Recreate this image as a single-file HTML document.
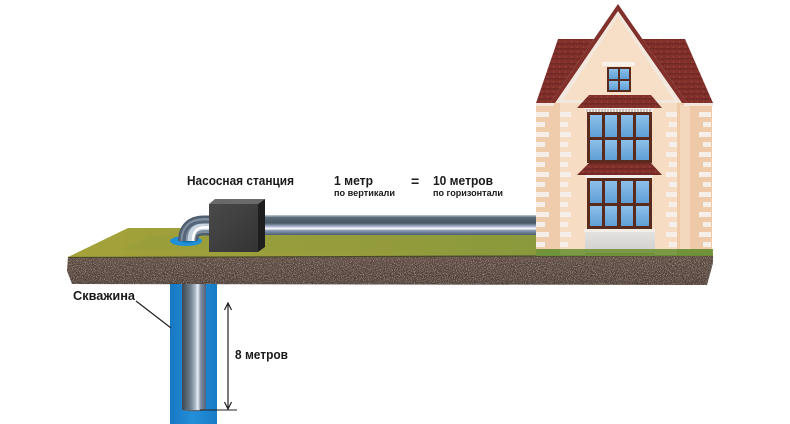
<!DOCTYPE html>
<html><head><meta charset="utf-8"><style>
html,body{margin:0;padding:0;background:#fff;}
svg{display:block;}
text{font-family:"Liberation Sans","DejaVu Sans",sans-serif;font-weight:bold;fill:#1a1a1a;}
</style></head><body>
<svg width="790" height="424" viewBox="0 0 790 424" xmlns="http://www.w3.org/2000/svg">
<defs>
<filter id="soilN" x="0" y="0" width="1" height="1">
<feTurbulence type="fractalNoise" baseFrequency="1.1" numOctaves="2" seed="3" result="t"/>
<feColorMatrix in="t" type="matrix" values="0 0 0 0 0.62  0 0 0 0 0.52  0 0 0 0 0.46  0 0 0 2.0 -1.0" result="s"/>
<feComposite in="s" in2="SourceGraphic" operator="in" result="m"/>
<feMerge><feMergeNode in="SourceGraphic"/><feMergeNode in="m"/></feMerge>
</filter>
<linearGradient id="grass" x1="0" y1="0" x2="1" y2="0">
<stop offset="0" stop-color="#a4a23a"/><stop offset="0.5" stop-color="#959c3c"/><stop offset="1" stop-color="#76963e"/>
</linearGradient>
<linearGradient id="soilG" x1="0" y1="0" x2="0" y2="1">
<stop offset="0" stop-color="#5e4b42"/><stop offset="1" stop-color="#4f3f38"/>
</linearGradient>
<linearGradient id="hpipe" x1="0" y1="0" x2="0" y2="1">
<stop offset="0" stop-color="#c4d0d8"/><stop offset="0.12" stop-color="#5a6a78"/><stop offset="0.4" stop-color="#4a5866"/>
<stop offset="0.55" stop-color="#9aa8c2"/><stop offset="0.68" stop-color="#ffffff"/><stop offset="0.78" stop-color="#8797b4"/><stop offset="1" stop-color="#4e5e6e"/>
</linearGradient>
<linearGradient id="vpipe" x1="0" y1="0" x2="1" y2="0">
<stop offset="0" stop-color="#3c4752"/><stop offset="0.35" stop-color="#6f7e8c"/><stop offset="0.55" stop-color="#aab8c6"/>
<stop offset="0.66" stop-color="#e6eef4"/><stop offset="0.78" stop-color="#8090a2"/><stop offset="1" stop-color="#52627a"/>
</linearGradient>
<linearGradient id="well" x1="0" y1="0" x2="1" y2="0">
<stop offset="0" stop-color="#1878c2"/><stop offset="0.5" stop-color="#238fda"/><stop offset="1" stop-color="#187cc4"/>
</linearGradient>
<linearGradient id="boxf" x1="0" y1="0" x2="1" y2="1">
<stop offset="0" stop-color="#4a4a4a"/><stop offset="1" stop-color="#333"/>
</linearGradient>
<linearGradient id="pane" x1="0" y1="0" x2="0" y2="1">
<stop offset="0" stop-color="#8cc0ea"/><stop offset="1" stop-color="#5f9fd6"/>
</linearGradient>
<linearGradient id="base" x1="0" y1="0" x2="0" y2="1">
<stop offset="0" stop-color="#e4e2e0"/><stop offset="1" stop-color="#cfcdcc"/>
</linearGradient>
<pattern id="tiles" width="6" height="5" patternUnits="userSpaceOnUse">
<rect width="6" height="5" fill="#82302b"/>
<path d="M0 4.5 Q1.5 2.5 3 4.5 Q4.5 2.5 6 4.5" stroke="#642220" stroke-width="0.8" fill="none"/>
<circle cx="1.5" cy="2" r="0.8" fill="#9a4038"/>
</pattern>
</defs>

<!-- ground top -->
<polygon points="128,228 705,228 713,256 68,257" fill="url(#grass)"/>
<polygon points="150,236 700,234 710,252 120,250" fill="#8f9a3c" opacity="0.35"/>
<!-- soil -->
<polygon points="68,257 713,255 713,263 707,285 72,284 67,271" fill="url(#soilG)" filter="url(#soilN)"/>
<line x1="68" y1="257.5" x2="713" y2="255.5" stroke="#4a4a2a" stroke-width="1.2"/>

<!-- well -->
<rect x="170" y="284" width="47" height="140" fill="url(#well)"/>
<rect x="182" y="284" width="24" height="126" fill="url(#vpipe)"/>
<path d="M182 410 Q194 413 206 410" fill="#55657a"/>

<!-- hole -->
<ellipse cx="186" cy="241" rx="16" ry="5" fill="#1e8fd8"/>
<ellipse cx="188" cy="240" rx="9" ry="2.5" fill="#0f6aa8"/>

<!-- elbow pipe -->
<path d="M210 225.5 L204 225.5 Q188 225.5 188 241" fill="none" stroke="#4e5e6e" stroke-width="20"/>
<path d="M210 225.5 L204 225.5 Q188 225.5 188 241" fill="none" stroke="#7f8fa0" stroke-width="15"/>
<path d="M210 226.5 L204 226.5 Q191 226.5 191 241" fill="none" stroke="#c8d4e0" stroke-width="7"/>
<path d="M210 227.5 L204 227.5 Q193 227.5 193 241" fill="none" stroke="#ffffff" stroke-width="2.5"/>
<path d="M210 222 L204 222 Q184 222 184 241" fill="none" stroke="#56667a" stroke-width="3"/>

<!-- horizontal pipe -->
<rect x="258" y="215" width="284" height="20" fill="url(#hpipe)"/>

<!-- pump box -->
<polygon points="209,204 215,199 265,199 258,204" fill="#6a6a6a"/>
<polygon points="258,204 265,199 265,247 258,252" fill="#1e1e1e"/>
<rect x="209" y="204" width="49" height="48" fill="url(#boxf)"/>

<!-- HOUSE -->
<rect x="536" y="103" width="24" height="146" fill="#efcdac"/>
<rect x="677" y="103" width="35" height="146" fill="#eecaa8"/>
<rect x="680" y="105" width="10" height="144" fill="#f4dbc2" opacity="0.8"/>
<rect x="560" y="98" width="117" height="157" fill="#f5dcc2"/>
<g fill="#f6efe9">
<rect x="536" y="112" width="13" height="5"/><rect x="536" y="122" width="9" height="5"/><rect x="536" y="132" width="13" height="5"/><rect x="536" y="142" width="9" height="5"/><rect x="536" y="152" width="13" height="5"/><rect x="536" y="162" width="9" height="5"/><rect x="536" y="172" width="13" height="5"/><rect x="536" y="182" width="9" height="5"/><rect x="536" y="192" width="13" height="5"/><rect x="536" y="202" width="9" height="5"/><rect x="536" y="212" width="13" height="5"/><rect x="536" y="222" width="9" height="5"/><rect x="536" y="232" width="13" height="5"/><rect x="536" y="242" width="9" height="5"/>
<rect x="560" y="112" width="11" height="5"/><rect x="560" y="122" width="8" height="5"/><rect x="560" y="132" width="11" height="5"/><rect x="560" y="142" width="8" height="5"/><rect x="560" y="152" width="11" height="5"/><rect x="560" y="162" width="8" height="5"/><rect x="560" y="172" width="11" height="5"/><rect x="560" y="182" width="8" height="5"/><rect x="560" y="192" width="11" height="5"/><rect x="560" y="202" width="8" height="5"/><rect x="560" y="212" width="11" height="5"/><rect x="560" y="222" width="8" height="5"/><rect x="560" y="232" width="11" height="5"/><rect x="560" y="242" width="8" height="5"/>
<rect x="666" y="112" width="11" height="5"/><rect x="669" y="122" width="8" height="5"/><rect x="666" y="132" width="11" height="5"/><rect x="669" y="142" width="8" height="5"/><rect x="666" y="152" width="11" height="5"/><rect x="669" y="162" width="8" height="5"/><rect x="666" y="172" width="11" height="5"/><rect x="669" y="182" width="8" height="5"/><rect x="666" y="192" width="11" height="5"/><rect x="669" y="202" width="8" height="5"/><rect x="666" y="212" width="11" height="5"/><rect x="669" y="222" width="8" height="5"/><rect x="666" y="232" width="11" height="5"/><rect x="669" y="242" width="8" height="5"/>
<rect x="699" y="112" width="12" height="5"/><rect x="703" y="122" width="8" height="5"/><rect x="699" y="132" width="12" height="5"/><rect x="703" y="142" width="8" height="5"/><rect x="699" y="152" width="12" height="5"/><rect x="703" y="162" width="8" height="5"/><rect x="699" y="172" width="12" height="5"/><rect x="703" y="182" width="8" height="5"/><rect x="699" y="192" width="12" height="5"/><rect x="703" y="202" width="8" height="5"/><rect x="699" y="212" width="12" height="5"/><rect x="703" y="222" width="8" height="5"/><rect x="699" y="232" width="12" height="5"/><rect x="703" y="242" width="8" height="5"/>
</g>
<polygon points="558,39 594,39 551,103 536,103" fill="url(#tiles)"/>
<polygon points="642,39 685,39 713,103 686,103" fill="url(#tiles)"/>
<rect x="536" y="103" width="18" height="3" fill="#f3e6da"/>
<rect x="684" y="103" width="29" height="3" fill="#f3e6da"/>
<polygon points="618,4 550,103 687,103" fill="#f2e8de"/>
<polygon points="618,4 550,103 555,103 618,11" fill="#82302b"/>
<polygon points="618,4 687,103 682,103 618,11" fill="#82302b"/>
<polygon points="618,16 563,100 674,100" fill="#f6dfc6"/>
<rect x="602" y="62" width="33" height="4" fill="#f7f1ea"/>
<rect x="607" y="67" width="24" height="25" fill="#5a2a1c"/>
<rect x="609" y="69" width="9" height="10" fill="url(#pane)"/><rect x="620" y="69" width="9" height="10" fill="url(#pane)"/>
<rect x="609" y="81" width="9" height="9" fill="url(#pane)"/><rect x="620" y="81" width="9" height="9" fill="url(#pane)"/>
<polygon points="589,95 651,95 662,108 577,108" fill="url(#tiles)"/>
<rect x="585" y="108" width="68" height="4" fill="#f4eee8"/>
<g stroke="#8a7a70" stroke-width="0.8"><path d="M587 109v3M590 109v3M593 109v3M596 109v3M599 109v3M602 109v3M605 109v3M608 109v3M611 109v3M614 109v3M617 109v3M620 109v3M623 109v3M626 109v3M629 109v3M632 109v3M635 109v3M638 109v3M641 109v3M644 109v3M647 109v3M650 109v3"/></g>
<rect x="587" y="112" width="65" height="51" fill="#5a2a1c"/>
<g fill="url(#pane)">
<rect x="590" y="115" width="12" height="22"/><rect x="605" y="115" width="12" height="22"/><rect x="621" y="115" width="12" height="22"/><rect x="636" y="115" width="13" height="22"/>
<rect x="590" y="140" width="12" height="20"/><rect x="605" y="140" width="12" height="20"/><rect x="621" y="140" width="12" height="20"/><rect x="636" y="140" width="13" height="20"/>
</g>
<polygon points="589,163 651,163 662,175 577,175" fill="url(#tiles)"/>
<rect x="585" y="175" width="68" height="3" fill="#f4eee8"/>
<rect x="587" y="178" width="65" height="51" fill="#5a2a1c"/>
<g fill="url(#pane)">
<rect x="590" y="181" width="12" height="22"/><rect x="605" y="181" width="12" height="22"/><rect x="621" y="181" width="12" height="22"/><rect x="636" y="181" width="13" height="22"/>
<rect x="590" y="206" width="12" height="20"/><rect x="605" y="206" width="12" height="20"/><rect x="621" y="206" width="12" height="20"/><rect x="636" y="206" width="13" height="20"/>
</g>
<rect x="584" y="229" width="71" height="3" fill="#f4eee8"/>
<rect x="585" y="232" width="70" height="23" fill="url(#base)"/>
<polygon points="536,249 713,249 713,256 536,256" fill="#6f9238" opacity="0.9"/>
<rect x="585" y="253" width="70" height="3" fill="#6f9238"/>

<!-- labels -->
<text x="187" y="185" font-size="13" textLength="107" lengthAdjust="spacingAndGlyphs">Насосная станция</text>
<text x="334" y="185" font-size="13" textLength="39" lengthAdjust="spacingAndGlyphs">1 метр</text>
<text x="334" y="196" font-size="9" textLength="61" lengthAdjust="spacingAndGlyphs">по вертикали</text>
<text x="411" y="186" font-size="14">=</text>
<text x="433" y="185" font-size="13" textLength="60" lengthAdjust="spacingAndGlyphs">10 метров</text>
<text x="433" y="196" font-size="9" textLength="70" lengthAdjust="spacingAndGlyphs">по горизонтали</text>
<text x="73" y="300" font-size="12.5" textLength="62" lengthAdjust="spacingAndGlyphs">Скважина</text>
<text x="235" y="359" font-size="12.5" textLength="53" lengthAdjust="spacingAndGlyphs">8 метров</text>

<line x1="136" y1="301" x2="171" y2="328" stroke="#222" stroke-width="1.2"/>
<line x1="228" y1="303" x2="228" y2="409" stroke="#222" stroke-width="1.2"/>
<polyline points="224.5,310 228,303 231.5,310" fill="none" stroke="#222" stroke-width="1.2"/>
<polyline points="224.5,402 228,409 231.5,402" fill="none" stroke="#222" stroke-width="1.2"/>
<line x1="200" y1="410" x2="237" y2="410" stroke="#222" stroke-width="1"/>
</svg>
</body></html>
